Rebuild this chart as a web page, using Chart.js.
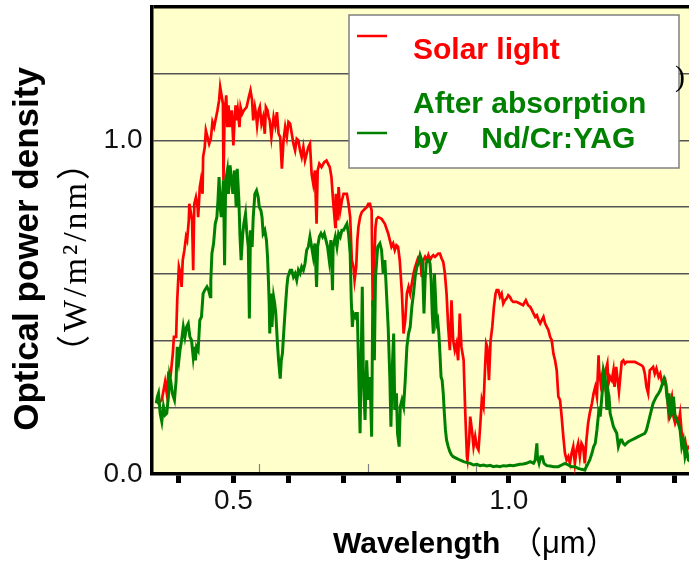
<!DOCTYPE html>
<html><head><meta charset="utf-8">
<script src="https://cdn.jsdelivr.net/npm/chart.js@4.4.0/dist/chart.umd.min.js"></script>
<style>html,body{margin:0;padding:0;background:#fff;}canvas{display:block;}</style>
</head><body>
<canvas id="c" width="689" height="573"></canvas>
<script>
// ---- data (wavelength in µm, optical power density in W/m²/nm) ----
const solarWl = [0.360,0.364,0.370,0.376,0.379,0.382,0.386,0.390,0.392,0.396,0.398,0.401,0.404,0.406,0.408,0.411,0.414,0.416,0.419,0.420,0.423,0.425,0.427,0.429,0.432,0.435,0.436,0.439,0.441,0.444,0.445,0.448,0.450,0.453,0.456,0.459,0.462,0.465,0.468,0.471,0.474,0.476,0.478,0.481,0.482,0.484,0.487,0.489,0.491,0.494,0.497,0.500,0.502,0.504,0.506,0.508,0.511,0.513,0.516,0.519,0.524,0.528,0.531,0.534,0.536,0.539,0.541,0.543,0.546,0.548,0.551,0.554,0.557,0.559,0.562,0.564,0.566,0.569,0.573,0.576,0.579,0.582,0.585,0.588,0.591,0.594,0.597,0.600,0.603,0.606,0.609,0.612,0.615,0.618,0.621,0.624,0.627,0.630,0.633,0.636,0.639,0.642,0.645,0.648,0.651,0.653,0.656,0.660,0.665,0.669,0.672,0.675,0.678,0.681,0.685,0.686,0.689,0.691,0.694,0.697,0.700,0.703,0.706,0.709,0.712,0.715,0.718,0.720,0.723,0.725,0.727,0.730,0.733,0.739,0.742,0.745,0.748,0.751,0.753,0.756,0.758,0.760,0.763,0.769,0.775,0.781,0.784,0.787,0.790,0.793,0.796,0.799,0.802,0.806,0.809,0.812,0.815,0.818,0.821,0.824,0.827,0.830,0.836,0.839,0.842,0.845,0.848,0.851,0.854,0.857,0.860,0.863,0.866,0.869,0.872,0.875,0.878,0.881,0.884,0.887,0.890,0.893,0.896,0.899,0.902,0.905,0.908,0.911,0.914,0.918,0.921,0.924,0.925,0.928,0.930,0.933,0.936,0.939,0.942,0.945,0.948,0.951,0.954,0.957,0.959,0.961,0.964,0.967,0.970,0.973,0.976,0.978,0.981,0.984,0.987,0.990,0.993,0.996,0.999,1.002,1.005,1.008,1.014,1.020,1.026,1.031,1.035,1.039,1.042,1.045,1.048,1.051,1.054,1.057,1.060,1.063,1.066,1.069,1.072,1.075,1.078,1.081,1.084,1.087,1.090,1.093,1.096,1.099,1.102,1.105,1.108,1.111,1.114,1.117,1.120,1.123,1.126,1.129,1.132,1.135,1.138,1.141,1.144,1.147,1.151,1.154,1.157,1.160,1.163,1.164,1.167,1.170,1.173,1.176,1.179,1.181,1.184,1.187,1.190,1.192,1.195,1.197,1.200,1.203,1.205,1.208,1.211,1.214,1.217,1.223,1.229,1.235,1.241,1.244,1.247,1.250,1.253,1.256,1.259,1.262,1.265,1.268,1.272,1.275,1.278,1.281,1.284,1.287,1.290,1.293,1.296,1.299,1.302,1.305,1.308,1.311,1.314,1.317,1.320,1.323,1.327,1.335];
const solarPower = [0.222,0.212,0.222,0.276,0.242,0.301,0.296,0.361,0.411,0.411,0.521,0.621,0.601,0.561,0.641,0.671,0.711,0.701,0.760,0.810,0.780,0.760,0.611,0.810,0.830,0.800,0.770,0.860,0.880,0.840,0.950,0.980,1.030,1.010,0.990,1.005,1.055,1.040,1.065,1.090,1.120,1.160,1.140,1.110,0.880,1.080,1.135,1.040,1.105,1.040,1.090,0.985,1.060,1.105,1.060,1.090,1.040,1.100,1.080,1.090,1.100,1.130,1.150,1.120,1.060,1.100,1.080,1.045,1.090,1.100,1.050,1.070,1.020,1.100,1.090,1.070,1.060,1.010,1.070,1.045,1.085,1.020,1.010,0.915,1.000,1.040,1.010,1.055,1.050,1.020,0.990,0.970,1.005,1.000,0.970,0.950,0.980,0.940,0.960,0.980,0.990,0.900,0.870,0.910,0.750,0.910,0.930,0.920,0.935,0.940,0.930,0.920,0.890,0.820,0.741,0.840,0.760,0.860,0.790,0.820,0.840,0.840,0.840,0.810,0.770,0.641,0.621,0.581,0.621,0.701,0.741,0.770,0.785,0.795,0.800,0.810,0.810,0.790,0.500,0.650,0.740,0.765,0.770,0.765,0.750,0.721,0.701,0.681,0.691,0.671,0.686,0.681,0.641,0.541,0.421,0.461,0.541,0.561,0.541,0.571,0.601,0.621,0.651,0.651,0.591,0.641,0.651,0.641,0.656,0.641,0.651,0.656,0.651,0.656,0.661,0.661,0.646,0.636,0.601,0.541,0.441,0.371,0.521,0.401,0.371,0.391,0.341,0.481,0.381,0.341,0.182,0.052,0.042,0.102,0.172,0.132,0.082,0.112,0.082,0.072,0.142,0.222,0.202,0.321,0.391,0.381,0.281,0.401,0.441,0.501,0.541,0.551,0.551,0.531,0.541,0.511,0.521,0.526,0.536,0.531,0.521,0.516,0.516,0.511,0.506,0.521,0.506,0.501,0.491,0.481,0.471,0.476,0.461,0.451,0.461,0.471,0.451,0.441,0.431,0.411,0.401,0.361,0.341,0.311,0.232,0.222,0.172,0.112,0.062,0.042,0.052,0.032,0.062,0.082,0.032,0.072,0.092,0.052,0.092,0.082,0.032,0.102,0.152,0.182,0.212,0.242,0.261,0.232,0.356,0.311,0.271,0.301,0.271,0.311,0.331,0.271,0.291,0.281,0.311,0.261,0.321,0.291,0.247,0.301,0.336,0.341,0.331,0.336,0.336,0.336,0.336,0.331,0.326,0.321,0.301,0.261,0.242,0.311,0.316,0.321,0.301,0.316,0.291,0.301,0.276,0.271,0.281,0.251,0.182,0.212,0.232,0.172,0.152,0.167,0.152,0.182,0.122,0.092,0.102,0.072,0.082,0.090];
const yagWl = [0.360,0.362,0.364,0.367,0.370,0.373,0.376,0.379,0.382,0.384,0.386,0.389,0.391,0.393,0.396,0.398,0.401,0.403,0.406,0.409,0.412,0.415,0.418,0.421,0.424,0.427,0.429,0.431,0.433,0.436,0.439,0.442,0.445,0.448,0.452,0.455,0.458,0.459,0.461,0.464,0.467,0.470,0.472,0.474,0.476,0.478,0.480,0.482,0.484,0.486,0.489,0.491,0.494,0.496,0.499,0.500,0.502,0.504,0.505,0.507,0.510,0.512,0.514,0.517,0.519,0.522,0.524,0.527,0.529,0.531,0.534,0.536,0.539,0.542,0.545,0.547,0.550,0.552,0.554,0.557,0.560,0.562,0.564,0.565,0.566,0.568,0.570,0.573,0.575,0.577,0.580,0.582,0.585,0.587,0.589,0.592,0.594,0.597,0.599,0.603,0.606,0.609,0.612,0.615,0.618,0.621,0.624,0.627,0.630,0.633,0.636,0.639,0.642,0.645,0.648,0.651,0.653,0.656,0.659,0.662,0.665,0.668,0.671,0.674,0.677,0.680,0.681,0.685,0.688,0.691,0.694,0.697,0.700,0.703,0.706,0.709,0.712,0.714,0.716,0.718,0.721,0.723,0.725,0.727,0.730,0.732,0.734,0.736,0.739,0.742,0.745,0.748,0.751,0.753,0.756,0.758,0.762,0.766,0.769,0.772,0.775,0.778,0.781,0.784,0.786,0.789,0.791,0.793,0.796,0.798,0.801,0.803,0.806,0.809,0.812,0.815,0.818,0.821,0.824,0.827,0.830,0.833,0.836,0.839,0.842,0.844,0.846,0.848,0.850,0.852,0.855,0.857,0.859,0.861,0.863,0.865,0.867,0.869,0.871,0.873,0.875,0.877,0.879,0.881,0.883,0.885,0.887,0.890,0.893,0.896,0.899,0.905,0.911,0.918,0.924,0.930,0.936,0.942,0.948,0.954,0.960,0.966,0.972,0.978,0.984,0.990,0.996,1.002,1.008,1.014,1.020,1.026,1.032,1.039,1.045,1.048,1.051,1.052,1.055,1.058,1.061,1.064,1.069,1.075,1.081,1.090,1.096,1.102,1.108,1.114,1.120,1.126,1.132,1.138,1.141,1.144,1.147,1.151,1.154,1.157,1.160,1.163,1.164,1.166,1.169,1.170,1.172,1.175,1.177,1.178,1.180,1.182,1.184,1.187,1.190,1.193,1.196,1.199,1.201,1.203,1.205,1.208,1.211,1.214,1.217,1.223,1.229,1.235,1.241,1.247,1.250,1.253,1.256,1.259,1.262,1.265,1.268,1.272,1.275,1.278,1.281,1.282,1.285,1.287,1.290,1.291,1.293,1.296,1.299,1.302,1.305,1.308,1.311,1.314,1.317,1.320,1.323,1.326,1.335];
const yagPower = [0.212,0.232,0.242,0.182,0.157,0.202,0.177,0.182,0.232,0.296,0.281,0.242,0.232,0.222,0.281,0.381,0.341,0.371,0.401,0.441,0.411,0.441,0.451,0.411,0.401,0.351,0.381,0.341,0.381,0.371,0.461,0.471,0.541,0.551,0.561,0.551,0.531,0.581,0.661,0.691,0.750,0.770,0.820,0.890,0.800,0.770,0.830,0.880,0.626,0.880,0.910,0.840,0.925,0.890,0.840,0.870,0.910,0.840,0.800,0.915,0.820,0.711,0.641,0.721,0.750,0.780,0.731,0.681,0.466,0.731,0.681,0.770,0.840,0.850,0.830,0.800,0.790,0.770,0.721,0.731,0.701,0.651,0.561,0.511,0.421,0.541,0.441,0.531,0.511,0.481,0.391,0.341,0.286,0.341,0.361,0.441,0.491,0.561,0.591,0.611,0.611,0.591,0.601,0.581,0.611,0.601,0.621,0.611,0.631,0.671,0.681,0.711,0.681,0.651,0.691,0.561,0.681,0.711,0.721,0.711,0.721,0.701,0.681,0.641,0.701,0.551,0.681,0.711,0.681,0.721,0.711,0.731,0.731,0.741,0.750,0.721,0.661,0.521,0.441,0.481,0.471,0.481,0.481,0.341,0.122,0.341,0.561,0.291,0.162,0.341,0.222,0.291,0.112,0.521,0.341,0.591,0.681,0.691,0.671,0.601,0.641,0.541,0.441,0.291,0.142,0.341,0.421,0.192,0.242,0.122,0.082,0.202,0.222,0.202,0.281,0.381,0.421,0.441,0.501,0.541,0.591,0.621,0.631,0.656,0.641,0.591,0.481,0.581,0.631,0.641,0.641,0.631,0.581,0.481,0.421,0.601,0.531,0.451,0.461,0.421,0.361,0.291,0.281,0.242,0.182,0.132,0.102,0.082,0.067,0.057,0.052,0.047,0.042,0.037,0.034,0.032,0.027,0.029,0.025,0.027,0.024,0.026,0.022,0.024,0.022,0.025,0.024,0.026,0.025,0.027,0.029,0.030,0.032,0.037,0.032,0.042,0.092,0.052,0.032,0.052,0.052,0.032,0.025,0.024,0.022,0.022,0.027,0.032,0.027,0.022,0.022,0.017,0.014,0.012,0.022,0.032,0.042,0.062,0.082,0.092,0.132,0.182,0.202,0.172,0.232,0.251,0.311,0.291,0.232,0.192,0.251,0.232,0.182,0.162,0.142,0.132,0.122,0.082,0.092,0.102,0.102,0.092,0.087,0.092,0.097,0.102,0.107,0.112,0.117,0.122,0.132,0.152,0.172,0.192,0.212,0.222,0.232,0.242,0.251,0.266,0.281,0.286,0.271,0.232,0.202,0.242,0.172,0.182,0.232,0.172,0.162,0.152,0.132,0.082,0.102,0.052,0.072,0.042,0.030];

const seriesNames = ['Solar light', 'After absorption\nby    Nd/Cr:YAG'];
const xTickValues = [0.4,0.5,0.6,0.7,0.8,0.9,1.0,1.1,1.2,1.3];
const xLabelValues = [0.5, 1.0];
const innerTickValues = [0.547, 0.744, 0.941, 1.138];
const yTickValues = [0,0.2,0.4,0.6,0.8,1.0,1.2,1.4];
const yLabelValues = [0, 1.0];
const xRange = [0.3513, 1.3272];
const yRange = [0, 1.4];
const xTitle = ['Wavelength', '（μm）'];
const yTitle = ['Optical power density', '（W/m²/nm）'];

const near = (arr, v) => arr.some(a => Math.abs(a - v) < 1e-6);
const toPts = (xs, ys) => xs.map((x, i) => ({x: x, y: ys[i]}));

const bgPlugin = {
  id: 'bg',
  beforeDraw(chart) {
    const c = chart.ctx, a = chart.chartArea;
    c.save();
    c.fillStyle = '#ffffff';
    c.fillRect(0, 0, chart.width, chart.height);
    c.fillStyle = '#ffffcc';
    c.fillRect(a.left, a.top, a.right - a.left, a.bottom - a.top);
    c.restore();
  },
  beforeDatasetsDraw(chart) {
    const c = chart.ctx, a = chart.chartArea, xs = chart.scales.x;
    c.save();
    c.strokeStyle = '#808080';
    c.lineWidth = 1.2;
    innerTickValues.forEach(v => {
      const px = Math.round(xs.getPixelForValue(v)) + 0.5;
      c.beginPath();
      c.moveTo(px, a.bottom - 2);
      c.lineTo(px, a.bottom - 10);
      c.stroke();
    });
    c.restore();
  }
};

const overlayPlugin = {
  id: 'overlay',
  afterDraw(chart) {
    const c = chart.ctx;
    const ds = chart.data.datasets;
    c.save();
    // legend box
    c.fillStyle = '#ffffff';
    c.fillRect(349, 15, 330, 153);
    c.strokeStyle = '#808080';
    c.lineWidth = 1.5;
    c.strokeRect(349, 15, 330, 153);
    // samples
    c.lineWidth = 2.5;
    c.strokeStyle = ds[0].borderColor;
    c.beginPath(); c.moveTo(357, 36); c.lineTo(387, 36); c.stroke();
    c.strokeStyle = ds[1].borderColor;
    c.beginPath(); c.moveTo(357, 133); c.lineTo(387, 133); c.stroke();
    c.font = 'bold 30px "Liberation Sans", Arial, sans-serif';
    c.textAlign = 'left';
    c.textBaseline = 'alphabetic';
    c.fillStyle = ds[0].borderColor;
    c.fillText(ds[0].label, 413, 59);
    c.fillStyle = ds[1].borderColor;
    const lines = ds[1].label.split('\n');
    c.fillText(lines[0], 413, 113);
    c.fillText(lines[1], 413, 148);
    // stray bracket fragment
    c.fillStyle = '#000';
    c.font = '30px "Liberation Serif", serif';
    c.fillText(')', 675, 86);

    // x title
    c.fillStyle = '#000';
    c.font = 'bold 30px "Liberation Sans", Arial, sans-serif';
    c.fillText(xTitle[0], 333, 553);
    c.font = '31px "Liberation Sans", "Noto Sans CJK JP", sans-serif';
    c.fillText(xTitle[1], 511, 553);

    // y title
    c.save();
    c.translate(38, 249);
    c.rotate(-Math.PI / 2);
    c.textAlign = 'center';
    c.font = 'bold 35px "Liberation Sans", Arial, sans-serif';
    c.fillText(yTitle[0], 0, 0);
    c.restore();
    c.save();
    c.translate(86, 256);
    c.rotate(-Math.PI / 2);
    c.textAlign = 'center';
    c.font = '34px "Liberation Serif", "Noto Sans CJK JP", serif';
    try { c.letterSpacing = '3px'; } catch (e) {}
    c.fillText(yTitle[1], 0, 0);
    c.restore();
    c.restore();
  }
};

new Chart(document.getElementById('c').getContext('2d'), {
  type: 'line',
  data: {
    datasets: [
      {label: seriesNames[0], data: toPts(solarWl, solarPower), borderColor: '#ff0000', borderWidth: 2.7,
       pointRadius: 0, tension: 0, fill: false, order: 2},
      {label: seriesNames[1], data: toPts(yagWl, yagPower), borderColor: '#008000', borderWidth: 3,
       pointRadius: 0, tension: 0, fill: false, order: 1}
    ]
  },
  options: {
    responsive: false,
    animation: false,
    devicePixelRatio: 1,
    layout: {padding: {left: 0, right: 0, top: 7, bottom: 0}},
    plugins: {legend: {display: false}, tooltip: {enabled: false}},
    scales: {
      x: {
        type: 'linear', min: xRange[0], max: xRange[1],
        afterFit(s) { s.height = 99; s.paddingLeft = 0; s.paddingRight = 0; },
        afterBuildTicks(s) { s.ticks = xTickValues.map(v => ({value: v})); },
        ticks: {
          autoSkip: false, maxRotation: 0, padding: 1, color: '#111',
          font: {family: '"Liberation Sans", Arial, sans-serif', size: 28},
          callback: (v) => near(xLabelValues, v) ? Number(v).toFixed(1) : ''
        },
        grid: {drawOnChartArea: false, drawTicks: true, tickLength: 9, tickWidth: 5, tickColor: '#000'},
        border: {display: true, color: '#000', width: 3.5}
      },
      y: {
        type: 'linear', min: yRange[0], max: yRange[1],
        afterFit(s) { s.width = 151.5; s.paddingTop = 0; s.paddingBottom = 0; },
        afterBuildTicks(s) { s.ticks = yTickValues.map(v => ({value: v})); },
        ticks: {
          padding: 9, color: '#111',
          font: {family: '"Liberation Sans", Arial, sans-serif', size: 28},
          callback: (v) => near(yLabelValues, v) ? Number(v).toFixed(1) : ''
        },
        grid: {
          drawTicks: false,
          color: (ctx) => ctx.tick && Math.abs(ctx.tick.value) < 1e-6 ? 'rgba(0,0,0,0)' :
                          (ctx.tick && Math.abs(ctx.tick.value - 1.4) < 1e-6 ? '#000' : '#555555'),
          lineWidth: (ctx) => ctx.tick && Math.abs(ctx.tick.value - 1.4) < 1e-6 ? 3.5 : 1.5
        },
        border: {display: true, color: '#000', width: 3.5}
      }
    }
  },
  plugins: [bgPlugin, overlayPlugin]
});
</script>
</body></html>
